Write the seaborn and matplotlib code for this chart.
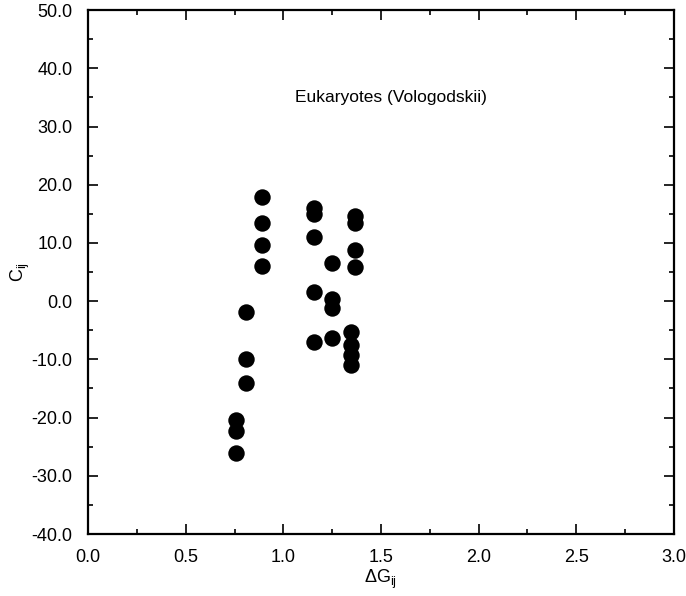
import matplotlib
matplotlib.use("Agg")
import matplotlib.pyplot as plt
import seaborn as sns
import pandas as pd
from matplotlib.ticker import MultipleLocator, FormatStrFormatter

# data
dg = [0.758, 0.758, 0.758,
      0.809, 0.809, 0.809,
      0.889, 0.889, 0.889, 0.889,
      1.157, 1.157, 1.157, 1.157, 1.157,
      1.248, 1.248, 1.248, 1.248,
      1.347, 1.347, 1.347, 1.347,
      1.367, 1.367, 1.367, 1.367]
cij = [-20.4, -22.3, -26.1,
       -1.9, -10.0, -14.0,
       17.9, 13.5, 9.6, 6.1,
       16.0, 14.9, 11.1, 1.6, -7.0,
       6.5, 0.3, -1.2, -6.4,
       -5.3, -7.5, -9.3, -11.0,
       14.6, 13.4, 8.8, 5.9]

df = pd.DataFrame({"dg": dg, "c": cij})

sns.set_style("ticks")
plt.rcParams["font.family"] = ["Liberation Sans", "DejaVu Sans"]
plt.rcParams["mathtext.fontset"] = "custom"
plt.rcParams["mathtext.rm"] = "Liberation Sans"
plt.rcParams["mathtext.it"] = "Liberation Sans"
plt.rcParams["text.color"] = "black"
plt.rcParams["axes.labelcolor"] = "black"
plt.rcParams["xtick.color"] = "black"
plt.rcParams["ytick.color"] = "black"

fig = plt.figure(figsize=(6.86, 5.96), dpi=100)
ax = fig.add_axes([0.1283, 0.104, 0.8542, 0.879])

sns.scatterplot(data=df, x="dg", y="c", ax=ax, color="black", s=140,
                edgecolor="black", linewidth=0, legend=False)

ax.set_xlim(0, 3)
ax.set_ylim(-40, 50)
ax.xaxis.set_major_locator(MultipleLocator(0.5))
ax.xaxis.set_minor_locator(MultipleLocator(0.25))
ax.yaxis.set_major_locator(MultipleLocator(10))
ax.yaxis.set_minor_locator(MultipleLocator(5))
ax.xaxis.set_major_formatter(FormatStrFormatter("%.1f"))
ax.yaxis.set_major_formatter(FormatStrFormatter("%.1f"))

ax.tick_params(which="both", direction="in", top=True, right=True,
               labelsize=13, width=1.2)
ax.tick_params(which="major", length=7, pad=11)
ax.tick_params(which="minor", length=3.5)
for sp in ax.spines.values():
    sp.set_linewidth(1.6)
    sp.set_color("black")

ax.set_xlabel(r"$\Delta$G$_{\mathrm{ij}}$", fontsize=13, labelpad=1)
ax.set_ylabel(r"C$_{\mathrm{ij}}$", fontsize=13, labelpad=0)

ax.text(1.55, 35.0, "Eukaryotes (Vologodskii)", fontsize=12.5,
        ha="center", va="center")

fig.savefig("out.png", dpi=100)
